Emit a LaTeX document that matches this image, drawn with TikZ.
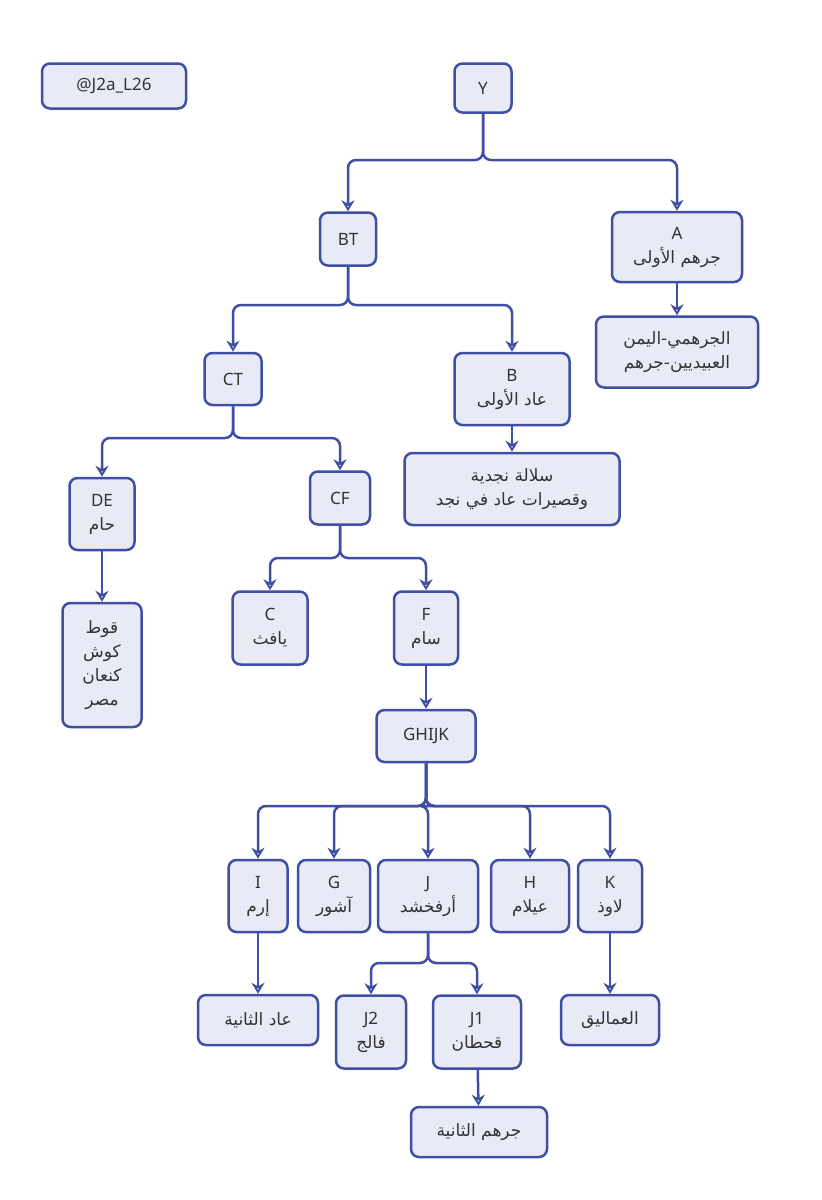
\documentclass[tikz,border=0pt]{standalone}
\usepackage{fontspec}
\setmainfont{Noto Sans}
\newfontfamily\arabicfont[Script=Arabic]{DejaVu Sans}
\TeXXeTstate=1
\usetikzlibrary{arrows.meta}
\newcommand{\ar}[1]{{\arabicfont\beginR #1\endR}}
\definecolor{bd}{HTML}{3F4FA3}
\definecolor{fl}{HTML}{E8EAF6}
\tikzset{
 box/.style={draw=bd, fill=fl, line width=2.5pt, rounded corners=8pt, align=center, inner sep=2pt, font=\fontsize{17}{24}\selectfont, text=black!80},
 arr/.style={draw=bd, line width=2.5pt, rounded corners=8pt, -{Stealth[length=11pt,width=13pt,open]}}
}
\begin{document}
\begin{tikzpicture}[x=1pt,y=-1pt]
\useasboundingbox[fill=white] (0,0) rectangle (822,1200);
\node[box,minimum width=144,minimum height=45] (tag) at (114,86) {@J2a\_L26};
\node[box,minimum width=57,minimum height=49] (Y) at (483,88) {Y};
\node[box,minimum width=56,minimum height=53] (BT) at (348,239) {BT};
\node[box,minimum width=130,minimum height=70] (A) at (677,247) {A\\\ar{جرهم الأولى}};
\node[box,minimum width=162,minimum height=71] (Aj) at (677,352) {\ar{الجرهمي-اليمن}\\\ar{العبيديين-جرهم}};
\node[box,minimum width=57,minimum height=52] (CT) at (233,379) {CT};
\node[box,minimum width=115,minimum height=72] (B) at (512,389) {B\\\ar{عاد الأولى}};
\node[box,minimum width=215,minimum height=72] (Bn) at (512,489) {\ar{سلالة نجدية}\\\ar{وقصيرات عاد في نجد}};
\node[box,minimum width=65,minimum height=72] (DE) at (102,514) {DE\\\ar{حام}};
\node[box,minimum width=60,minimum height=53] (CF) at (340,498) {CF};
\node[box,minimum width=79,minimum height=124] (DEl) at (102,665) {\ar{قوط}\\\ar{كوش}\\\ar{كنعان}\\\ar{مصر}};
\node[box,minimum width=75,minimum height=73] (C) at (270,628) {C\\\ar{يافث}};
\node[box,minimum width=64,minimum height=73] (F) at (426,628) {F\\\ar{سام}};
\node[box,minimum width=99,minimum height=52] (G5) at (426,736) {GHIJK};
\node[box,minimum width=59,minimum height=72] (I) at (258,896) {I\\\ar{إرم}};
\node[box,minimum width=72,minimum height=72] (G) at (334,896) {G\\\ar{آشور}};
\node[box,minimum width=100,minimum height=72] (J) at (428,896) {J\\\ar{أرفخشد}};
\node[box,minimum width=78,minimum height=72] (H) at (530,896) {H\\\ar{عيلام}};
\node[box,minimum width=64,minimum height=72] (K) at (610,896) {K\\\ar{لاوذ}};
\node[box,minimum width=120,minimum height=50] (Ia) at (258,1020) {\ar{عاد الثانية}};
\node[box,minimum width=70,minimum height=73] (J2) at (371,1032) {J2\\\ar{فالج}};
\node[box,minimum width=88,minimum height=73] (J1) at (477,1032) {J1\\\ar{قحطان}};
\node[box,minimum width=98,minimum height=50] (Ka) at (610,1020) {\ar{العماليق}};
\node[box,minimum width=136,minimum height=50] (J1a) at (479,1132) {\ar{جرهم الثانية}};
\draw[arr] (Y.south) |- (BT.north |- 0,160) -- (BT.north);
\draw[arr] (Y.south) |- (A.north |- 0,160) -- (A.north);
\draw[arr] (A) -- (Aj);
\draw[arr] (BT.south) |- (CT.north |- 0,305) -- (CT.north);
\draw[arr] (BT.south) |- (B.north |- 0,305) -- (B.north);
\draw[arr] (B) -- (Bn);
\draw[arr] (CT.south) |- (DE.north |- 0,438) -- (DE.north);
\draw[arr] (CT.south) |- (CF.north |- 0,438) -- (CF.north);
\draw[arr] (DE) -- (DEl);
\draw[arr] (CF.south) |- (C.north |- 0,558) -- (C.north);
\draw[arr] (CF.south) |- (F.north |- 0,558) -- (F.north);
\draw[arr] (F) -- (G5);
\foreach \t in {I,G,J,H,K} \draw[arr] (G5.south) |- (\t.north |- 0,806) -- (\t.north);
\draw[arr] (I) -- (Ia);
\draw[arr] (K) -- (Ka);
\draw[arr] (J.south) |- (J2.north |- 0,963) -- (J2.north);
\draw[arr] (J.south) |- (J1.north |- 0,963) -- (J1.north);
\draw[arr] (J1) -- (J1a);
\end{tikzpicture}
\end{document}
